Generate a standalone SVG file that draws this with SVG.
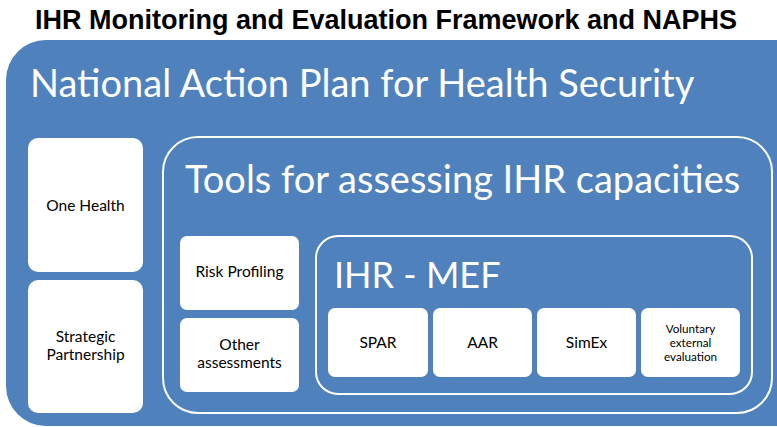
<svg xmlns="http://www.w3.org/2000/svg" width="777" height="427" viewBox="0 0 777 427">
  <style>
    .title { font-family: "Liberation Sans", Arial, sans-serif; font-weight: bold; font-size: 27px; fill: #000; }
    .big { font-family: Lato, "Open Sans", sans-serif; fill: #fff; }
    .box { fill: #fff; }
    .frame { fill: none; stroke: #fff; stroke-width: 2; }
    .lbl { font-family: Lato, "Open Sans", sans-serif; font-size: 15.5px; fill: #000; text-anchor: middle; }
    .sm { font-family: Lato, "Open Sans", sans-serif; font-size: 11.7px; fill: #000; text-anchor: middle; }
  </style>
  <rect width="777" height="427" fill="#fff"/>
  <text class="title" x="386" y="29" text-anchor="middle">IHR Monitoring and Evaluation Framework and NAPHS</text>

  <g id="naphs">
    <rect x="6" y="40" width="810" height="386" rx="40" fill="#4F81BD"/>
    <text class="big" x="30" y="97" font-size="38">National Action Plan for Health Security</text>
  </g>

  <g id="one-health">
    <rect class="box" x="28" y="138" width="115" height="134" rx="10"/>
    <text class="lbl" x="85.5" y="211">One Health</text>
  </g>
  <g id="strategic-partnership">
    <rect class="box" x="28" y="280" width="115" height="133" rx="10"/>
    <text class="lbl" x="85.5" y="342">Strategic</text>
    <text class="lbl" x="85.5" y="360">Partnership</text>
  </g>

  <g id="tools">
    <rect class="frame" x="163" y="137" width="609" height="276" rx="35"/>
    <text class="big" x="185" y="193" font-size="38">Tools for assessing IHR capacities</text>
  </g>

  <g id="risk-profiling">
    <rect class="box" x="180" y="236" width="119" height="74" rx="7"/>
    <text class="lbl" x="239.5" y="277">Risk Profiling</text>
  </g>
  <g id="other-assessments">
    <rect class="box" x="180" y="318" width="119" height="74" rx="7"/>
    <text class="lbl" x="239.5" y="350">Other</text>
    <text class="lbl" x="239.5" y="368">assessments</text>
  </g>

  <g id="ihr-mef">
    <rect class="frame" x="316" y="236" width="436" height="158" rx="22"/>
    <text class="big" x="334" y="288" font-size="36">IHR - MEF</text>
  </g>

  <g id="spar">
    <rect class="box" x="328" y="308" width="100" height="69" rx="7"/>
    <text class="lbl" x="378" y="348">SPAR</text>
  </g>
  <g id="aar">
    <rect class="box" x="433" y="308" width="99" height="69" rx="7"/>
    <text class="lbl" x="482.5" y="348">AAR</text>
  </g>
  <g id="simex">
    <rect class="box" x="537" y="308" width="99" height="69" rx="7"/>
    <text class="lbl" x="586.5" y="348">SimEx</text>
  </g>
  <g id="vee">
    <rect class="box" x="641" y="308" width="99" height="69" rx="7"/>
    <text class="sm" x="690.5" y="333">Voluntary</text>
    <text class="sm" x="690.5" y="347">external</text>
    <text class="sm" x="690.5" y="361">evaluation</text>
  </g>

  <g id="connectors"/>
</svg>
